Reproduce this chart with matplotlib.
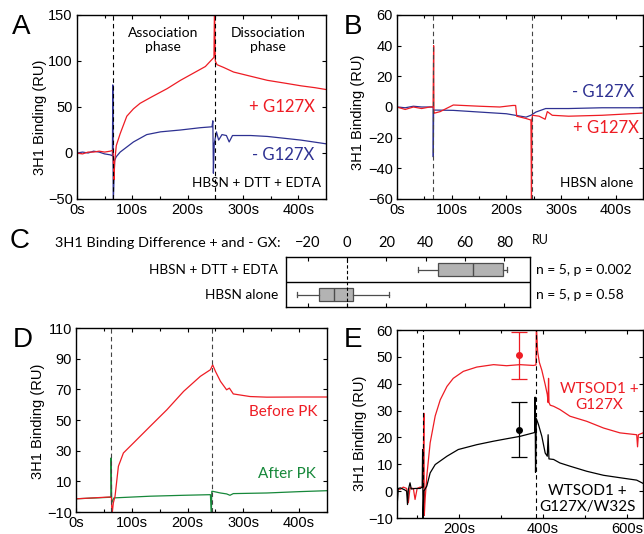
import numpy as np
import matplotlib.pyplot as plt

# ---- data ----
# panel A: HBSN + DTT + EDTA
a_red_t = [0, 10, 20, 30, 40, 50, 60, 65, 67, 68, 71, 78, 90, 102, 114, 135, 163, 187, 211, 232, 246, 247.5, 248.5, 250, 253, 265, 283, 310, 344, 375, 405, 430, 450]
a_red_y = [0, -1, 1, 1, 2, 1, 2, 3, -29, -10, 8, 21, 40, 48, 54, 61, 70, 79, 87, 94, 103, 104, 160, 100, 96, 93, 88, 84, 79, 76, 73, 71, 69]
a_blue_t = [0, 10, 20, 30, 40, 50, 60, 64, 64.7, 65.5, 68, 71, 78, 102, 126, 151, 187, 223, 244, 245.5, 246.5, 248, 252, 256, 262, 270, 275, 281, 314, 344, 405, 450]
a_blue_y = [0, 1, 0, 2, 1, -1, -2, -3, 74, -55, -8, -4, 1, 12, 20, 23, 25, 27.5, 28.5, 35, -22, 10, 23, 14, 20, 19, 12, 19, 19, 18, 14, 10]

# panel B: HBSN alone
b_red_t = [0, 15, 30, 45, 60, 66, 67, 67.6, 68.5, 79, 103, 121, 151, 188, 212, 217, 219, 236, 245, 246, 246.8, 248, 260, 271, 275, 284, 314, 375, 448]
b_red_y = [0, -1.6, 0, -1, 0, 0, 40, -4, -4, -3, 1.3, 1, 0.5, 0, 1, 1, -6, -7.5, -8.5, -62, -8, -5.4, -6, -8, -3, -5.4, -6, -5.4, -4]
b_blue_t = [0, 15, 30, 45, 60, 66, 66.4, 67, 70, 103, 151, 200, 236, 245, 254, 272, 314, 375, 450]
b_blue_y = [0, -0.5, 0.5, 0, 0, 0, -32.6, -2, -2, -2.2, -3.3, -4.4, -6.6, -5.4, -3.3, -1, -1, -0.5, -0.5]

# panel C: difference boxes (whisker low, q1, median, q3, whisker high)
c_rows = ["HBSN + DTT + EDTA", "HBSN alone"]
c_stats = [[36, 46, 64, 79.5, 81.5], [-25.6, -14.4, -6.7, 3, 21.5]]
c_notes = ["n = 5, p = 0.002", "n = 5, p = 0.58"]

# panel D: before / after PK
d_red_t = [0, 31, 61, 63.5, 64.5, 67, 70, 76, 85, 103, 133, 163, 193, 223, 241, 245, 250, 259, 270, 275, 282, 312, 342, 400, 450]
d_red_y = [-1.4, -0.8, -0.2, -0.2, -12, -4, 0.3, 19.8, 28.5, 35, 45.9, 56.7, 68.7, 78.5, 82.8, 86, 81.7, 75.2, 69.7, 70.8, 67, 65.3, 64.9, 65, 65]
d_green_t = [0, 30, 61, 62.5, 63, 64, 68, 133, 193, 241, 242.5, 243.5, 245, 259, 270, 276, 282, 342, 402, 450]
d_green_y = [-1.4, -0.9, -0.4, -0.4, 25.3, -4, -0.8, 0.3, 0.9, 1.3, -12, 3.5, 3.5, 2.4, 1.8, 0.9, 2, 2.4, 3.3, 3.9]

# panel E: WTSOD1 + G127X vs + G127X/W32S
e_red_t = [53, 59, 67, 75, 79, 83, 91, 95, 100, 107, 114, 116, 117, 119, 123, 131, 143, 155, 171, 186, 210, 242, 282, 313, 345, 377, 383, 384, 387, 391, 397, 405, 410, 412, 413, 414, 417, 425, 440, 464, 504, 544, 583, 623, 625, 627, 638]
e_red_y = [1, 0.6, 1.5, 1, -4.3, 1.2, 1, -3.1, 1, 1.5, 1.5, 29, -9, -3, 5.6, 18, 28, 34, 39, 42, 44.6, 46.2, 47.1, 46.7, 47.1, 46.8, 47, 62, 52, 48, 45, 39.7, 36, 33, 42, 33, 32, 31.6, 30.4, 27.9, 26, 23.5, 21.7, 21, 16.5, 21, 21.7]
e_blk_t = [52, 53, 55, 60, 70, 75, 77, 79, 83, 86, 95, 107, 112, 113, 114, 116, 123, 131, 143, 171, 198, 242, 282, 313, 345, 377, 380, 381, 382, 384, 389, 397, 405, 410, 412, 414, 425, 440, 464, 504, 544, 583, 623, 638]
e_blk_y = [-4, -3.7, 1, 1.2, 0.5, 0, -5, 0.5, 3.1, 0.8, 1, 1, 1.5, 15.5, -10, 0, 1.9, 6.8, 9.9, 13, 15.5, 17.3, 18.6, 19.5, 20.4, 21.7, 21.9, 35, 7, 27, 24.8, 20.4, 14.2, 13, 21, 12, 11.8, 10.5, 9.3, 7.4, 5.9, 5, 4.1, 2.9]
e_err_t = [343, 343]
e_err_mean = [50.6, 22.9]
e_err_lo = [41.8, 12.6]
e_err_hi = [59.1, 33.1]

x_ticks_450 = [0, 100, 200, 300, 400]
x_labels_450 = ["0s", "100s", "200s", "300s", "400s"]
e_ticks = [200, 400, 600]
e_labels = ["200s", "400s", "600s"]

RED = "#ee1c24"
BLUE = "#2e3192"
GREEN = "#16883a"
TXT = "Lato"
TICK = "Liberation Sans"

W, H = 644, 534
plt.rcParams["font.family"] = TICK
plt.rcParams["font.size"] = 10.5
fig = plt.figure(figsize=(W / 100, H / 100), dpi=100)


def px_axes(l, t, r, b):
    return fig.add_axes([l / W, 1 - b / H, (r - l) / W, (b - t) / H])


def ptext(x, y, s, size=10, color="k", ha="center", **kw):
    # text placed in figure pixels, measured from the top-left corner
    fig.text(x / W, 1 - y / H, s, ha=ha, va="center", fontsize=size, color=color, family=TXT, **kw)


def style(ax):
    ax.tick_params(which="both", direction="in", top=True, right=True, length=3, width=0.8, pad=3, labelsize=10.5)
    ax.tick_params(which="minor", length=2.5)
    for s in ax.spines.values():
        s.set_linewidth(1.0)


def ylab(x, y):
    fig.text(x / W, 1 - y / H, "3H1 Binding (RU)", rotation=90, ha="center", va="center", fontsize=10.5)


def letter(x, y, s):
    fig.text(x / W, 1 - y / H, s, ha="center", va="center", fontsize=20)


# ---- A ----
ax = px_axes(77, 15, 326, 199)
ax.plot(a_blue_t, a_blue_y, color=BLUE, lw=0.9)
ax.plot(a_red_t, a_red_y, color=RED, lw=0.9)
for x in [65, 250]:
    ax.axvline(x, color="k", ls=(0, (4, 3)), lw=0.8)
ax.set_xlim(0, 450)
ax.set_ylim(-50, 150)
ax.set_yticks([-50, 0, 50, 100, 150])
ax.set_xticks(x_ticks_450, x_labels_450)
ax.set_xticks(np.arange(50, 450, 100), minor=True)
style(ax)
ptext(163, 40, "Association\nphase", size=10, linespacing=1.15)
ptext(268, 40, "Dissociation\nphase", size=10, linespacing=1.15)
ptext(282, 107, "+ G127X", size=12, color=RED)
ptext(283, 155, "- G127X", size=12, color=BLUE)
ptext(257, 183, "HBSN + DTT + EDTA", size=9.8)
ylab(40, 117)
letter(21, 27, "A")

# ---- B ----
ax = px_axes(397, 15, 643, 199)
ax.plot(b_blue_t, b_blue_y, color=BLUE, lw=0.9)
ax.plot(b_red_t, b_red_y, color=RED, lw=0.9)
for x in [66, 247]:
    ax.axvline(x, color="#444444", ls=(0, (4, 3)), lw=0.8)
ax.set_xlim(0, 450)
ax.set_ylim(-60, 60)
ax.set_yticks(np.arange(-60, 61, 20))
ax.set_xticks(x_ticks_450, x_labels_450)
ax.set_xticks(np.arange(50, 450, 100), minor=True)
style(ax)
ptext(603, 92, "- G127X", size=12, color=BLUE)
ptext(606, 128, "+ G127X", size=12, color=RED)
ptext(597, 183, "HBSN alone", size=9.8)
ylab(358, 112)
letter(353, 27, "B")

# ---- C ----
ax = px_axes(286, 257, 530, 307)
ypos = [1, 0]
bxp_stats = [dict(whislo=s[0], q1=s[1], med=s[2], q3=s[3], whishi=s[4], fliers=[]) for s in c_stats]
ax.bxp(bxp_stats, positions=ypos, orientation="horizontal", widths=0.5, patch_artist=True, capwidths=0.2,
       boxprops=dict(facecolor="#b3b3b3", edgecolor="#4d4d4d", lw=0.9),
       medianprops=dict(color="#4d4d4d", lw=1.0),
       whiskerprops=dict(color="#4d4d4d", lw=0.9), capprops=dict(color="#4d4d4d", lw=0.9))
ax.axhline(0.5, color="k", lw=1.0)
ax.axvline(0, color="k", ls=(0, (3, 2)), lw=0.8)
ax.set_xlim(-31, 93)
ax.set_ylim(-0.5, 1.5)
ax.set_yticks([])
ax.set_xticks(np.arange(-20, 81, 20))
ax.xaxis.tick_top()
ax.tick_params(axis="x", direction="in", top=True, bottom=True, length=3, width=0.8, pad=5)
ax.tick_params(axis="x", labelsize=10.5)
for lab in ax.get_xticklabels():
    lab.set_family(TXT)
for s in ax.spines.values():
    s.set_linewidth(1.0)
ptext(281, 243, "3H1 Binding Difference + and - GX:", size=10.4, ha="right")
ptext(532, 240, "RU", size=9, ha="left")
for i, (r, n) in enumerate(zip(c_rows, c_notes)):
    yy = 270 + 25 * i
    ptext(278, yy, r, size=9.8, ha="right")
    ptext(536, yy, n, size=10, ha="left")
letter(20, 241, "C")

# ---- D ----
ax = px_axes(76, 328, 327, 512)
ax.plot(d_green_t, d_green_y, color=GREEN, lw=0.9)
ax.plot(d_red_t, d_red_y, color=RED, lw=0.9)
for x in [62, 243]:
    ax.axvline(x, color="#444444", ls=(0, (4, 3)), lw=0.8)
ax.set_xlim(0, 450)
ax.set_ylim(-10, 110)
ax.set_yticks(np.arange(-10, 111, 20))
ax.set_xticks(x_ticks_450, x_labels_450)
ax.set_xticks(np.arange(50, 450, 100), minor=True)
style(ax)
ptext(283, 412, "Before PK", size=11, color=RED)
ptext(287, 474, "After PK", size=11, color=GREEN)
ylab(38, 421)
letter(23, 340, "D")

# ---- E ----
ax = px_axes(397, 330, 643, 518)
ax.plot(e_red_t, e_red_y, color=RED, lw=0.9)
ax.plot(e_blk_t, e_blk_y, color="k", lw=0.9)
ax.errorbar(e_err_t[:1], e_err_mean[:1], yerr=[[e_err_mean[0] - e_err_lo[0]], [e_err_hi[0] - e_err_mean[0]]],
            fmt="o", color=RED, ms=4, capsize=6, elinewidth=0.9, capthick=0.9)
ax.errorbar(e_err_t[1:], e_err_mean[1:], yerr=[[e_err_mean[1] - e_err_lo[1]], [e_err_hi[1] - e_err_mean[1]]],
            fmt="o", color="k", ms=4, capsize=6, elinewidth=0.9, capthick=0.9)
for x in [113, 382]:
    ax.axvline(x, color="k", ls=(0, (4, 3)), lw=0.8)
ax.set_xlim(52, 638)
ax.set_ylim(-10, 60)
ax.set_yticks(np.arange(-10, 61, 10))
ax.set_xticks(e_ticks, e_labels)
ax.set_xticks([100, 300, 500], minor=True)
style(ax)
ptext(599, 397, "WTSOD1 +\nG127X", size=11, color=RED, linespacing=1.15)
ptext(587, 499, "WTSOD1 +\nG127X/W32S", size=11, linespacing=1.15)
ylab(360, 433)
letter(353, 340, "E")

fig.savefig("out.png", dpi=100)
